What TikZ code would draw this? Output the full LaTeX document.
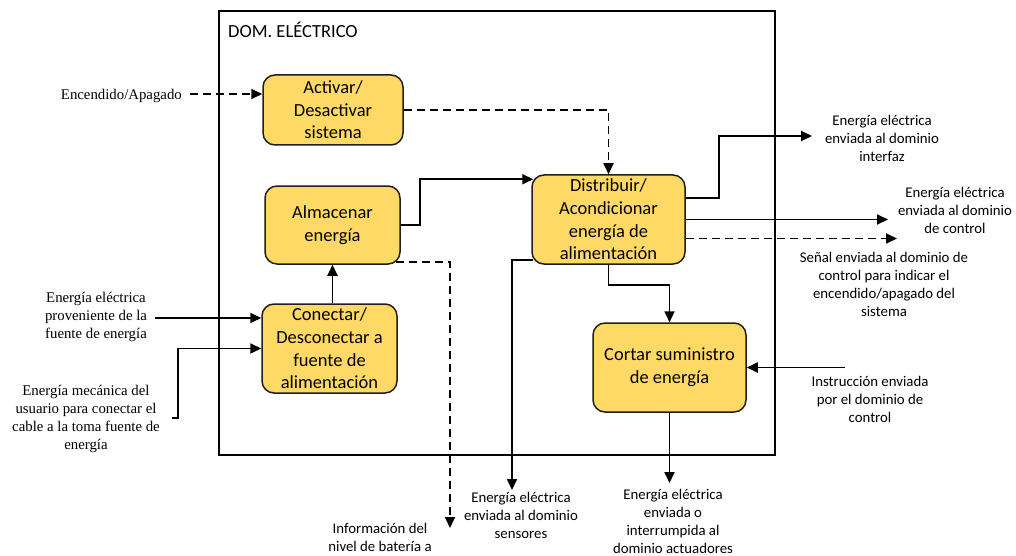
\documentclass[tikz,border=0pt]{standalone}
\usepackage{fontspec}
\setmainfont{Carlito}
\newfontfamily\serifl{Liberation Serif}
\usetikzlibrary{arrows.meta,calc}

\definecolor{boxfill}{HTML}{FFD966}
\definecolor{boxline}{HTML}{1F1F1F}

\tikzset{
  func/.style={draw=boxline, fill=boxfill, line width=1.5pt, rounded corners=12pt,
    align=center, font=\fontsize{18.5pt}{22.6pt}\selectfont, inner sep=0pt},
  lbl/.style={align=center, font=\fontsize{14.8pt}{18pt}\selectfont, inner sep=0pt},
  slbl/.style={align=center, font=\serifl\fontsize{14.8pt}{18pt}\selectfont, inner sep=0pt},
  flow/.style={line width=1.8pt, -{Triangle[length=11pt,width=10pt]}},
  sig/.style={flow, dash pattern=on 8pt off 5pt},
}

\begin{document}
\begin{tikzpicture}[x=1pt,y=-1pt]
\useasboundingbox (0,0) rectangle (1016,556);

% domain frame
\node[draw, line width=1.4pt, minimum width=556pt, minimum height=444pt, inner sep=0pt] (dom) at (497,233) {};
\node[anchor=west, font=\fontsize{18.5pt}{22pt}\selectfont, inner sep=0pt] (domt) at (228,30) {DOM. ELÉCTRICO};

% functions
\node[func, minimum width=140pt, minimum height=70pt] (act) at (333,110) {Activar/\\Desactivar\\sistema};
\node[func, minimum width=135pt, minimum height=78pt] (alm) at (332.5,225) {Almacenar\\energía};
\node[func, minimum width=135pt, minimum height=89pt] (con) at (329.5,348.5) {Conectar/\\Desconectar a\\fuente de\\alimentación};
\node[func, minimum width=153pt, minimum height=89pt] (dis) at (608.5,219.5) {Distribuir/\\Acondicionar\\energía de\\alimentación};
\node[func, minimum width=153pt, minimum height=89pt] (cor) at (669.5,367.5) {Cortar suministro\\de energía};

% external labels
\node[slbl, anchor=east] (enc) at (182,96) {Encendido/Apagado};
\node[slbl] (prov) at (96,317) {Energía eléctrica\\proveniente de la\\fuente de energía};
\node[slbl] (mec) at (86,419) {Energía mecánica del\\usuario para conectar el\\cable a la toma fuente de\\energía};
\node[lbl] (inter) at (882,138) {Energía eléctrica\\enviada al dominio\\interfaz};
\node[lbl] (ctl) at (955,210) {Energía eléctrica\\enviada al dominio\\de control};
\node[lbl] (sen) at (884,284) {Señal enviada al dominio de\\control para indicar el\\encendido/apagado del\\sistema};
\node[lbl] (ins) at (870,399) {Instrucción enviada\\por el dominio de\\control};
\node[lbl] (sens) at (521,515) {Energía eléctrica\\enviada al dominio\\sensores};
\node[lbl] (actu) at (673,521) {Energía eléctrica\\enviada o\\interrumpida al\\dominio actuadores};
\node[lbl] (info) at (380,537) {Información del\\nivel de batería a};

% free ends of the connectors
\coordinate (encS) at (190,94);
\coordinate (provS) at (155,318);
\coordinate (mecS) at (172,418);
\coordinate (interT) at (812,136);
\coordinate (ctlT) at (888,219.5);
\coordinate (senT) at (897,238.5);
\coordinate (insS) at (845,367.5);
\coordinate (sensT) at (512,490);
\coordinate (actuT) at (669.5,483);
\coordinate (infoT) at (450,528);

% inputs
\draw[sig] (encS) -- (encS -| act.west);
\draw[flow] (provS) -- (provS -| con.west);
\draw[flow] (mecS) -- ++(6,0) |- (con.west);
\draw[flow] (insS) -- (cor.east);

% internal flows
\draw[sig] (act.east) -| (dis.north);
\draw[flow] (alm.east) -- ++(19,0) |- ($(dis.north west)+(2,5)$);
\draw[flow] (alm.south |- con.north) -- (alm.south);
\draw[flow] (dis.south) -- ++(0,20) -| (cor.north);

% outputs
\draw[flow] ($(dis.east)+(0,-21.5)$) -- ++(33,0) |- (interT);
\draw[flow] (dis.east) -- (ctlT);
\draw[sig] ($(dis.east)+(0,19)$) -- (senT);
\draw[flow] ($(dis.south west)+(2,-5)$) -| (sensT);
\draw[flow] (cor.south) -- (actuT);
\draw[sig] ($(alm.south east)+(-5,-3)$) -| (infoT);
\end{tikzpicture}
\end{document}
